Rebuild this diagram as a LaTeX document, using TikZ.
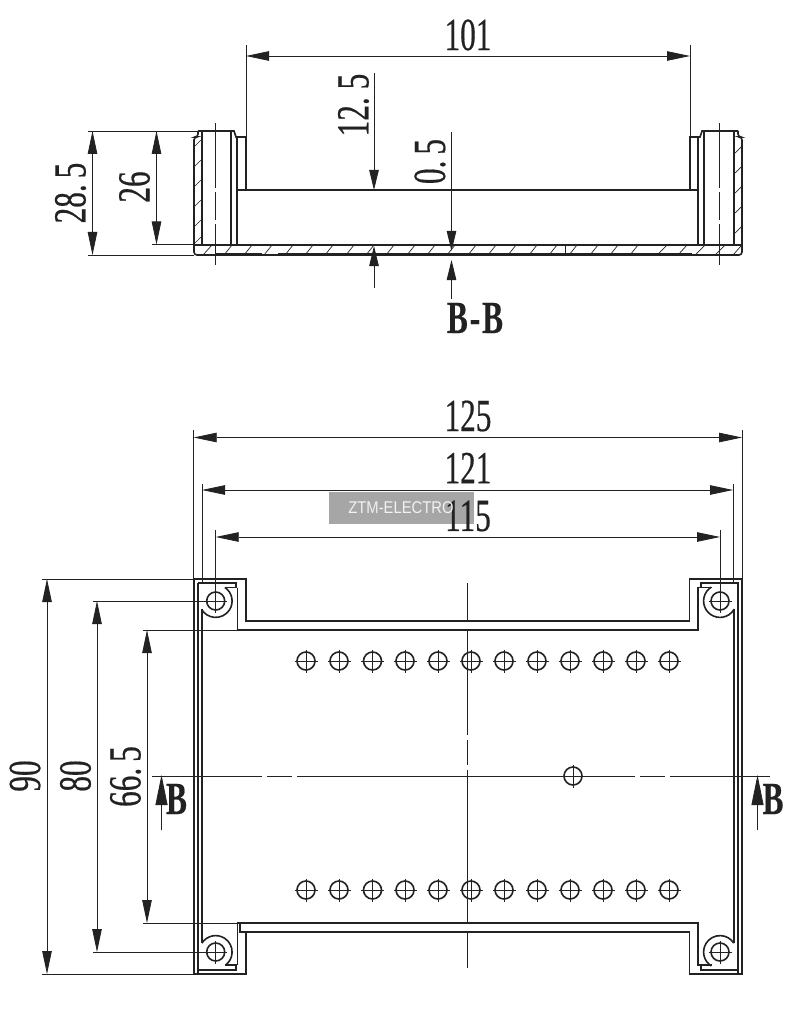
\documentclass[tikz,border=0pt]{standalone}
\usepackage{fontspec}
\usetikzlibrary{arrows.meta}
\newfontfamily\dimfont[FakeStretch=0.68,FakeBold=0.4]{Liberation Serif}
\newfontfamily\markfont[FakeStretch=0.87]{Liberation Sans}
\definecolor{inkblack}{HTML}{222222}
\definecolor{stampgray}{HTML}{A6A6A6}
\tikzset{
    wall/.style={draw=inkblack,line width=1.6pt,line join=miter},
    heavy/.style={draw=inkblack,line width=3pt},
    hair/.style={draw=inkblack,line width=0.8pt},
    hatchline/.style={draw=inkblack,line width=0.7pt},
    dimboth/.style={hair,{Triangle[length=23pt,width=9.5pt]}-{Triangle[length=23pt,width=9.5pt]}},
    dimend/.style={hair,-{Triangle[length=20pt,width=9.5pt]}},
    cutend/.style={hair,-{Triangle[length=30pt,width=12pt]}},
    dimtext/.style={inner sep=0pt,text=inkblack,font=\dimfont\fontsize{46}{46}\selectfont},
    cuttext/.style={inner sep=0pt,text=inkblack,font=\dimfont\bfseries\fontsize{46}{46}\selectfont},
}
\newcommand{\drillhole}[2]{
    \draw[wall] (#1,#2) circle (9);
    \draw[hair] (#1-11.5,#2) -- (#1+11.5,#2);
    \draw[hair] (#1,#2-11.5) -- (#1,#2+11.5);
}
\begin{document}
\begin{tikzpicture}[x=1pt,y=-1pt]
    \useasboundingbox[fill=white] (0,0) rectangle (803,1016);

    \draw[wall,rounded corners=3pt] (198,131) -- (198,137) -- (194,137) -- (194,255) -- (215,255);
    \draw[wall] (198,131) -- (234,131) -- (236,137) -- (246,137) -- (246,190);
    \draw[wall] (237,190) -- (698,190);
    \draw[wall] (690,190) -- (690,137) -- (700,137) -- (702,131) -- (738,131);
    \draw[wall,rounded corners=3pt] (738,131) -- (738,137) -- (742,137) -- (742,255) -- (692,255);
    \draw[wall] (202,131) -- (202,245);
    \draw[wall] (231,131) -- (231,245);
    \draw[wall] (237,137) -- (237,245);
    \draw[wall] (698,137) -- (698,245);
    \draw[wall] (704,131) -- (704,245);
    \draw[wall] (734,131) -- (734,245);
    \draw[wall] (194,245) -- (742,245);
    \draw[heavy] (215,254.5) -- (262,254.5);
    \draw[wall] (262,255) -- (278,255);
    \draw[heavy] (278,254.5) -- (692,254.5);
    \draw[hair] (565,246) -- (565,253);

    \draw[hatchline] (194,147) -- (201,140) (194,167) -- (201,160) (194,187) -- (201,180) (194,207) -- (201,200) (194,227) -- (201,220) (194,244) -- (201,237);
    \draw[hatchline] (735,153) -- (741,147) (735,173) -- (741,167) (735,193) -- (741,187) (735,213) -- (741,207) (735,233) -- (741,227);
    \draw[hatchline] (203,255) -- (212,245) (224,255) -- (232,245) (244,255) -- (252,245) (264,255) -- (272,245) (285,255) -- (293,245);
    \draw[hatchline] (305,255) -- (313,245) (325,255) -- (333,245) (346,255) -- (354,245) (366,255) -- (374,245) (386,255) -- (394,245);
    \draw[hatchline] (407,255) -- (415,245) (427,255) -- (435,245) (447,255) -- (455,245) (468,255) -- (476,245) (488,255) -- (496,245);
    \draw[hatchline] (508,255) -- (516,245) (529,255) -- (537,245) (549,255) -- (557,245) (569,255) -- (577,245) (590,255) -- (598,245);
    \draw[hatchline] (610,255) -- (618,245) (630,255) -- (638,245) (657,255) -- (667,245) (678,255) -- (687,245) (695,255) -- (705,245);
    \draw[hatchline] (715,255) -- (725,245) (733,255) -- (741,246);

    \draw[hair] (215.5,123) -- (215.5,188) (215.5,192) -- (215.5,220) (215.5,224) -- (215.5,265);
    \draw[hair] (719.5,123) -- (719.5,188) (719.5,192) -- (719.5,220) (719.5,224) -- (719.5,265);

    \draw[hair] (246,45) -- (246,137);
    \draw[hair] (690,45) -- (690,137);
    \draw[dimboth] (246,56) -- (690,56);
    \node[dimtext] (widthinner) at (468,35) {101};

    \draw[hair] (88,131) -- (198,131);
    \draw[hair] (152,244.5) -- (194,244.5);
    \draw[hair] (88,255) -- (194,255);
    \draw[dimboth] (92.5,131) -- (92.5,255);
    \draw[dimboth] (156.5,131) -- (156.5,244.5);
    \node[dimtext,rotate=90] (heightouter) at (70.5,193) {28.\kern6pt 5};
    \node[dimtext,rotate=90] (heightinner) at (134.5,187) {26};

    \draw[dimend] (374,73) -- (374,190);
    \draw[dimend] (374,288) -- (374,246);
    \node[dimtext,rotate=90] (wallheight) at (353.5,105) {12.\kern8pt 5};
    \draw[dimend] (451.5,132) -- (451.5,251);
    \draw[dimend] (451.5,299) -- (451.5,260);
    \node[dimtext,rotate=90] (floorgap) at (430,161.5) {0.\kern6pt 5};
    \node[cuttext] (cutname) at (475,318) {B\kern2pt-\kern2pt B};

    \draw[wall] (194,974) -- (194,579) -- (246,579) -- (246,621) -- (689.5,621) -- (689.5,579) -- (742,579) -- (742,974) -- (689.5,974) -- (689.5,932) -- (240,932) -- (240,923);
    \draw[wall] (194,974) -- (246,974) -- (246,932);
    \draw[wall] (198,974) -- (198,583);
    \draw[wall] (198,583) -- (236,583) -- (236,587.5) -- (225,587.5);
    \draw[wall] (198,970) -- (236,970) -- (236,965) -- (225,965);
    \draw[wall] (237.5,587.5) -- (237.5,630) -- (698,630) -- (698,587.5) -- (711.5,587.5);
    \draw[wall] (237.5,965) -- (237.5,923) -- (698,923) -- (698,965) -- (712,965);
    \draw[wall] (738,974) -- (738,583) -- (701,583) -- (701,587.5);
    \draw[wall] (738,970) -- (701,970) -- (701,965);
    \draw[wall] (202,609) -- (202,943);
    \draw[wall] (734,609) -- (734,943);
    \draw[wall] (215.7,601) ++(-56:16.4) arc (-56:149:16.4);
    \draw[wall] (215.7,952) ++(213:16.4) arc (213:414:16.4);
    \draw[wall] (720,601) ++(238:16.4) arc (238:30:16.4);
    \draw[wall] (720,952) ++(122:16.4) arc (122:327:16.4);

    \drillhole{215.7}{601}
    \drillhole{720}{601}
    \drillhole{215.7}{952}
    \drillhole{720}{952}

    \drillhole{306}{661}
    \drillhole{339}{661}
    \drillhole{372.5}{661}
    \drillhole{405}{661}
    \drillhole{438}{661}
    \drillhole{471}{661}
    \drillhole{504}{661}
    \drillhole{537}{661}
    \drillhole{570}{661}
    \drillhole{603}{661}
    \drillhole{636}{661}
    \drillhole{669}{661}

    \drillhole{306}{890}
    \drillhole{339}{890}
    \drillhole{372.5}{890}
    \drillhole{405}{890}
    \drillhole{438}{890}
    \drillhole{471}{890}
    \drillhole{504}{890}
    \drillhole{537}{890}
    \drillhole{570}{890}
    \drillhole{603}{890}
    \drillhole{636}{890}
    \drillhole{669}{890}

    \drillhole{573}{776}

    \draw[hair] (152,776) -- (262,776) (267,776) -- (292,776) (297,776) -- (635,776) (640,776) -- (665,776) (670,776) -- (770,776);
    \draw[hair] (467,583) -- (467,621) (467,630) -- (467,735) (467,740) -- (467,765) (467,770) -- (467,923) (467,932) -- (467,968);

    \draw[cutend] (161.5,830) -- (161.5,775);
    \draw[cutend] (757.5,830) -- (757.5,775);
    \node[cuttext] (cutleft) at (176.5,799) {B};
    \node[cuttext] (cutright) at (773,799) {B};

    \draw[hair] (193.7,430) -- (193.7,579);
    \draw[hair] (742,430) -- (742,579);
    \draw[hair] (202,484) -- (202,583);
    \draw[hair] (733,484) -- (733,583);
    \draw[hair] (215.7,530) -- (215.7,590);
    \draw[hair] (720,530) -- (720,590);
    \draw[dimboth] (193.7,437.5) -- (742,437.5);
    \draw[dimboth] (202,490) -- (733,490);
    \draw[dimboth] (215.7,537) -- (720,537);

    \fill[stampgray] (329,492) rectangle (474,524);
    \node[dimtext] (widthall) at (468,416) {125};
    \node[dimtext] (widthwall) at (468,468) {121};
    \node[dimtext] (widthhole) at (468,516) {115};
    \node[inner sep=0pt,text=white!95!black,font=\markfont\fontsize{17}{17}\selectfont] (stamp) at (401,508) {ZTM-ELECTRO};

    \draw[hair] (42,579) -- (194,579);
    \draw[hair] (93,601) -- (204,601);
    \draw[hair] (143,630) -- (237.5,630);
    \draw[hair] (143,923) -- (237.5,923);
    \draw[hair] (93,952) -- (204,952);
    \draw[hair] (42,974) -- (194,974);
    \draw[dimboth] (47,579) -- (47,974);
    \draw[dimboth] (97,601) -- (97,952);
    \draw[dimboth] (147,630) -- (147,923);
    \node[dimtext,rotate=90] (heightall) at (25,776) {90};
    \node[dimtext,rotate=90] (heightbore) at (75.5,776) {80};
    \node[dimtext,rotate=90] (heightrail) at (125.5,776.5) {66.\kern6pt 5};
\end{tikzpicture}
\end{document}
